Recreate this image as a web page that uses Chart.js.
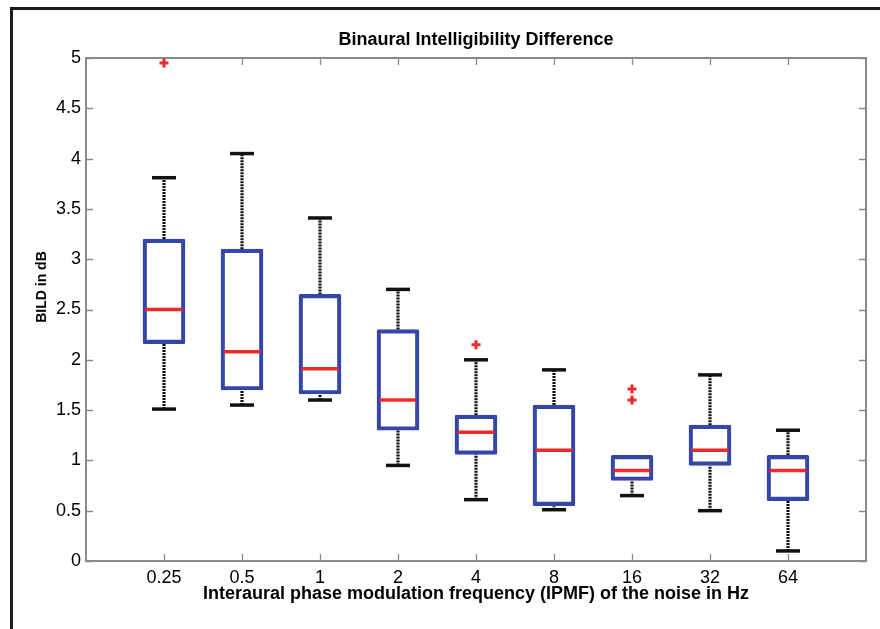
<!DOCTYPE html>
<html><head><meta charset="utf-8">
<script src="https://cdn.jsdelivr.net/npm/chart.js@4/dist/chart.umd.min.js"></script>
<style>html,body{margin:0;padding:0;background:#fff}canvas{display:block}</style>
</head><body>
<canvas id="c" width="880" height="629"></canvas>
<script>
// ---- data ----
const ipmfLabels  = ['0.25', '0.5', '1', '2', '4', '8', '16', '32', '64'];
const whiskerLow  = [1.51, 1.55, 1.60, 0.95, 0.61, 0.51, 0.65, 0.50, 0.10];
const quart1      = [2.16, 1.70, 1.66, 1.30, 1.06, 0.55, 0.80, 0.95, 0.60];
const medians     = [2.50, 2.08, 1.91, 1.60, 1.28, 1.10, 0.90, 1.10, 0.90];
const quart3      = [3.20, 3.10, 2.65, 2.30, 1.45, 1.55, 1.05, 1.35, 1.05];
const whiskerHigh = [3.81, 4.05, 3.41, 2.70, 2.00, 1.90, 1.05, 1.85, 1.30];
const outliers    = [[4.95], [], [], [], [2.15], [], [1.71, 1.60], [], []];
const yTicks      = [0, 0.5, 1, 1.5, 2, 2.5, 3, 3.5, 4, 4.5, 5];

const chartTitle = 'Binaural Intelligibility Difference';
const xTitle = 'Interaural phase modulation frequency (IPMF) of the noise in Hz';
const yTitle = 'BILD in dB';

const FONT = "'Liberation Sans', Arial, Helvetica, sans-serif";
const BLUE = '#3546a8';
const RED = '#ee2b2b';
const positions = ipmfLabels.map((_, i) => i + 1);

const boxData = positions.map((x, i) => ({x, y: [quart1[i], quart3[i]]}));
const medianData = positions.map((x, i) => ({x, y: medians[i]}));
const whiskerData = [];
positions.forEach((x, i) => {
  whiskerData.push({x, y: whiskerLow[i]}, {x, y: quart1[i]}, {x, y: null});
  if (whiskerHigh[i] > quart3[i]) whiskerData.push({x, y: quart3[i]}, {x, y: whiskerHigh[i]}, {x, y: null});
});
const capData = [];
positions.forEach((x, i) => {
  capData.push({x, y: whiskerLow[i]});
  if (whiskerHigh[i] > quart3[i]) capData.push({x, y: whiskerHigh[i]});
});
const outlierData = [];
positions.forEach((x, i) => outliers[i].forEach(v => outlierData.push({x, y: v})));

const framePlugin = {
  id: 'frame',
  beforeDraw(chart) {
    const ctx = chart.ctx;
    ctx.save();
    ctx.fillStyle = '#fff';
    ctx.fillRect(0, 0, chart.width, chart.height);
    ctx.strokeStyle = '#1c1c1c';
    ctx.lineWidth = 3;
    ctx.beginPath();
    ctx.moveTo(11.5, chart.height);
    ctx.lineTo(11.5, 8.5);
    ctx.lineTo(chart.width, 8.5);
    ctx.stroke();
    ctx.restore();
  },
  beforeDatasetsDraw(chart) {
    const {ctx, chartArea: a, scales: {x, y}} = chart;
    ctx.save();
    ctx.strokeStyle = '#8a8a8a';
    ctx.lineWidth = 2;
    ctx.strokeRect(a.left, a.top, a.right - a.left, a.bottom - a.top);
    ctx.lineWidth = 1.3;
    ctx.beginPath();
    x.ticks.forEach(t => {
      const px = Math.round(x.getPixelForValue(t.value)) + 0.5;
      ctx.moveTo(px, a.bottom); ctx.lineTo(px, a.bottom - 7);
      ctx.moveTo(px, a.top); ctx.lineTo(px, a.top + 7);
    });
    y.ticks.forEach(t => {
      const py = Math.round(y.getPixelForValue(t.value)) + 0.5;
      ctx.moveTo(a.left, py); ctx.lineTo(a.left + 7, py);
      ctx.moveTo(a.right, py); ctx.lineTo(a.right - 7, py);
    });
    ctx.stroke();
    // chart title centred over the plot area
    ctx.fillStyle = '#000';
    ctx.textAlign = 'center';
    ctx.textBaseline = 'middle';
    ctx.font = 'bold 18px ' + FONT;
    ctx.fillText(chartTitle, (a.left + a.right) / 2, 40);
    // y-axis title
    ctx.translate(42, 287);
    ctx.rotate(-Math.PI / 2);
    ctx.font = 'bold 14px ' + FONT;
    ctx.fillText(yTitle, 0, 0);
    ctx.restore();
  }
};

new Chart(document.getElementById('c'), {
  type: 'bar',
  data: {
    datasets: [
      {
        type: 'line', data: whiskerData, order: 5,
        borderColor: '#111', borderWidth: 3.2, borderDash: [2, 1],
        pointRadius: 0, spanGaps: false, fill: false, tension: 0
      },
      {
        type: 'scatter', data: capData, order: 4,
        pointStyle: 'line', pointRadius: 12, borderColor: '#111', pointBorderColor: '#111',
        borderWidth: 3.5, pointBorderWidth: 3.5
      },
      {
        type: 'bar', data: boxData, order: 3,
        barThickness: 42, borderSkipped: false, borderWidth: 3.5,
        borderColor: BLUE, backgroundColor: 'rgba(255,255,255,0)', borderRadius: 1.5
      },
      {
        type: 'scatter', data: medianData, order: 2,
        pointStyle: 'line', pointRadius: 18.5, borderColor: RED, pointBorderColor: RED,
        borderWidth: 3.5, pointBorderWidth: 3.5
      },
      {
        type: 'scatter', data: outlierData, order: 1,
        pointStyle: 'cross', pointRadius: 4.5, borderColor: RED, pointBorderColor: RED,
        borderWidth: 3, pointBorderWidth: 3
      }
    ]
  },
  plugins: [framePlugin],
  options: {
    responsive: false,
    animation: false,
    events: [],
    layout: {autoPadding: false, padding: {left: 0, right: 14, top: 58, bottom: 0}},
    plugins: {
      legend: {display: false},
      tooltip: {enabled: false},
      title: {display: false}
    },
    scales: {
      x: {
        type: 'linear', min: 0, max: 10, offset: false,
        grid: {display: false, drawTicks: false},
        border: {display: false},
        afterBuildTicks: s => { s.ticks = positions.map(v => ({value: v})); },
        afterFit: s => { s.height = 68; s.paddingLeft = 0; s.paddingRight = 0; },
        ticks: {
          autoSkip: false, maxRotation: 0, padding: 6, color: '#000',
          font: {family: FONT, size: 18},
          callback: v => ipmfLabels[v - 1] ?? ''
        },
        title: {
          display: true, color: '#000', text: xTitle,
          font: {family: FONT, size: 18, weight: 'bold'},
          padding: {top: 0, bottom: 24}
        }
      },
      y: {
        type: 'linear', min: 0, max: 5,
        grid: {display: false, drawTicks: false},
        border: {display: false},
        afterBuildTicks: s => { s.ticks = yTicks.map(v => ({value: v})); },
        afterFit: s => { s.width = 86; s.paddingTop = 0; s.paddingBottom = 0; },
        ticks: {
          padding: 5, color: '#000',
          font: {family: FONT, size: 18},
          callback: v => String(v)
        },
        title: {display: false}
      }
    }
  }
});
</script>
</body></html>
